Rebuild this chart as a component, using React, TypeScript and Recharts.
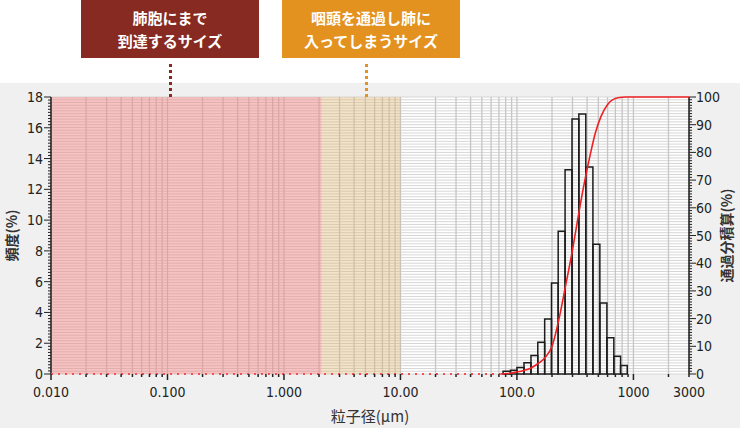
import React from "react";
import {
  ComposedChart,
  Line,
  XAxis,
  YAxis,
  CartesianGrid,
  ReferenceArea,
  Label,
} from "recharts";

// histogram bins (µm) and frequency (%)
const binEdges = [76, 88, 100, 115, 132, 151, 173, 198, 226, 259, 297, 340, 390, 449, 515, 592, 679, 776, 885];
const frequency = [0.18, 0.25, 0.42, 0.73, 1.2, 2.06, 3.58, 5.92, 9.27, 13.28, 16.57, 16.9, 13.45, 8.43, 4.62, 2.35, 1.16, 0.55];

// cumulative passing curve
const cumSizes = [72, 88, 100, 115, 132, 151, 174, 200, 230, 262, 299, 333, 375, 430, 471, 527, 603, 735, 865, 3000];
const cumPercent = [0, 0.3, 0.7, 1.3, 2.2, 3.7, 5.9, 10, 20, 32, 44.5, 56, 68, 80, 87, 93, 97.4, 99.7, 100, 100];

// dotted zero line before the curve starts
const baseSizes = [0.01, 72];
const basePercent = [0, 0];

const xMajorTicks = [0.01, 0.1, 1, 10, 100, 1000, 3000];
const xMajorLabels = ["0.010", "0.100", "1.000", "10.00", "100.0", "1000", "3000"];
const leftMajorTicks = [0, 2, 4, 6, 8, 10, 12, 14, 16, 18];
const rightMajorTicks = [0, 10, 20, 30, 40, 50, 60, 70, 80, 90, 100];

const alveolarRange = [0.01, 2.1];
const pharynxRange = [2.1, 10];

const annotationLines = [
  ["肺胞にまで", "到達するサイズ"],
  ["咽頭を通過し肺に", "入ってしまうサイズ"],
];

const cumData = cumSizes.map((s, i) => ({ size: s, pct: cumPercent[i] }));
const baseData = baseSizes.map((s, i) => ({ size: s, pct: basePercent[i] }));
const histData = frequency.map((f, i) => ({ size: binEdges[i], freq: f }));

const xTicks: number[] = [];
for (let d = -2; d <= 3; d++) {
  for (let m = 1; m <= 9; m++) {
    const v = +(m * Math.pow(10, d)).toPrecision(3);
    if (v <= 3000) xTicks.push(v);
  }
}
const leftTicks: number[] = [];
for (let k = 0; k <= 90; k++) leftTicks.push(k / 5);
const rightTicks: number[] = [];
for (let k = 0; k <= 100; k++) rightTicks.push(k);

const numFont = "'DejaVu Sans Condensed', 'DejaVu Sans', sans-serif";
const jpFont = "'Noto Sans CJK JP', sans-serif";

const XTick = (props: any) => {
  const { x, y, payload } = props;
  const v = payload.value;
  const idx = xMajorTicks.findIndex((m) => Math.abs(m - v) < m * 1e-6);
  const long = idx >= 0 && v !== 3000;
  return (
    <g>
      <line x1={x} x2={x} y1={y} y2={y + (long ? 6 : 3)} stroke="#222" strokeWidth={1.5} />
      {idx >= 0 && (
        <text x={x} y={y + 23} textAnchor="middle" fontSize={14} fill="#222" fontFamily={numFont}>
          {xMajorLabels[idx]}
        </text>
      )}
    </g>
  );
};

const LeftTick = (props: any) => {
  const { x, y, payload } = props;
  const v = payload.value;
  const major = leftMajorTicks.some((m) => Math.abs(m - v) < 1e-6);
  return (
    <g>
      <line x1={x - (major ? 7 : 3)} x2={x} y1={y} y2={y} stroke="#222" strokeWidth={1} />
      {major && (
        <text x={x - 8} y={y + 5} textAnchor="end" fontSize={14} fill="#222" fontFamily={numFont}>
          {v}
        </text>
      )}
    </g>
  );
};

const RightTick = (props: any) => {
  const { x, y, payload } = props;
  const v = payload.value;
  const major = rightMajorTicks.includes(v);
  return (
    <g>
      <line x1={x} x2={x + (major ? 7 : 3)} y1={y} y2={y} stroke="#222" strokeWidth={1} />
      {major && (
        <text x={x + 7} y={y + 5} textAnchor="start" fontSize={14} fill="#222" fontFamily={numFont}>
          {v}
        </text>
      )}
    </g>
  );
};

const boxStyle = (left: number, bg: string): React.CSSProperties => ({
  position: "absolute",
  left,
  top: 0,
  width: 178,
  height: 58,
  background: bg,
  color: "#fff",
  fontFamily: jpFont,
  fontSize: 15,
  fontWeight: 600,
  lineHeight: "23px",
  textAlign: "center",
  paddingTop: 6,
  boxSizing: "border-box",
});

const dotStyle = (left: number, color: string): React.CSSProperties => ({
  position: "absolute",
  left,
  top: 64,
  height: 33,
  width: 0,
  borderLeft: `3px dotted ${color}`,
});

export default function App() {
  return (
    <div style={{ position: "absolute", left: 0, top: 0, width: 740, height: 428, background: "#fff", overflow: "hidden" }}>
      <div style={{ position: "absolute", left: 0, top: 83, width: 740, height: 345, background: "#f0f0f0" }} />
      <div style={{ position: "absolute", left: 0, top: 0 }}>
        <ComposedChart width={740} height={428} margin={{ top: 97, right: 0, bottom: 0, left: 0 }}>
          <CartesianGrid yAxisId="right" vertical={false} stroke="#d6d6d6" fill="#ffffff" />
          <CartesianGrid yAxisId="right" horizontal={false} stroke="#c6c6c6" strokeWidth={1.3} />
          <XAxis
            dataKey="size"
            type="number"
            scale="log"
            domain={[0.01, 3000]}
            ticks={xTicks}
            interval={0}
            height={54}
            tickSize={0}
            tickMargin={0}
            axisLine={false}
            tickLine={false}
            tick={<XTick />}
          >
            <Label value="粒子径(μm)" position="center" dy={16} fontSize={15} fill="#333" fontFamily={jpFont} />
          </XAxis>
          <YAxis
            yAxisId="left"
            type="number"
            domain={[0, 18]}
            ticks={leftTicks}
            interval={0}
            width={51}
            tickSize={0}
            tickMargin={0}
            tickLine={false}
            axisLine={{ stroke: "#222", strokeWidth: 1.5 }}
            tick={<LeftTick />}
          >
            <Label value="頻度(%)" angle={-90} position="center" dx={-13} fontSize={14} fontWeight={600} fill="#333" fontFamily={jpFont} />
          </YAxis>
          <YAxis
            yAxisId="right"
            orientation="right"
            type="number"
            domain={[0, 100]}
            ticks={rightTicks}
            interval={0}
            width={51}
            tickSize={0}
            tickMargin={0}
            tickLine={false}
            axisLine={{ stroke: "#222", strokeWidth: 1.5 }}
            tick={<RightTick />}
          >
            <Label value="通過分積算(%)" angle={-90} position="center" dx={13} fontSize={14} fontWeight={600} fill="#333" fontFamily={jpFont} />
          </YAxis>
          {/* invisible series so the left axis has data of its own */}
          <Line
            yAxisId="left"
            data={histData}
            dataKey="freq"
            stroke="none"
            dot={false}
            activeDot={false}
            legendType="none"
            isAnimationActive={false}
          />
          <ReferenceArea
            yAxisId="left"
            x1={alveolarRange[0]}
            x2={alveolarRange[1]}
            y1={0}
            y2={18}
            fill="#ef8585"
            fillOpacity={0.5}
            stroke="none"
            ifOverflow="visible"
          />
          <ReferenceArea
            yAxisId="left"
            x1={pharynxRange[0]}
            x2={pharynxRange[1]}
            y1={0}
            y2={18}
            fill="#e0b572"
            fillOpacity={0.38}
            stroke="none"
            ifOverflow="visible"
          />
          {frequency.map((f, i) => (
            <ReferenceArea
              key={i}
              yAxisId="left"
              x1={binEdges[i]}
              x2={binEdges[i + 1]}
              y1={0}
              y2={f}
              fill="none"
              fillOpacity={0}
              stroke="#1c1c1c"
              strokeWidth={1.5}
              ifOverflow="visible"
            />
          ))}
          <Line
            yAxisId="right"
            data={baseData}
            dataKey="pct"
            type="linear"
            stroke="#f05050"
            strokeWidth={2}
            strokeDasharray="2 5"
            dot={false}
            isAnimationActive={false}
            zIndex={1200}
          />
          <Line
            yAxisId="right"
            data={cumData}
            dataKey="pct"
            type="monotone"
            stroke="#ee2024"
            strokeWidth={1.6}
            dot={false}
            isAnimationActive={false}
            zIndex={1200}
          />
        </ComposedChart>
      </div>
      <div style={boxStyle(81, "#872b22")}>
        {annotationLines[0][0]}
        <br />
        {annotationLines[0][1]}
      </div>
      <div style={boxStyle(282, "#e3921f")}>
        {annotationLines[1][0]}
        <br />
        {annotationLines[1][1]}
      </div>
      <div style={dotStyle(169, "#872b22")} />
      <div style={dotStyle(365, "#e3921f")} />
    </div>
  );
}
